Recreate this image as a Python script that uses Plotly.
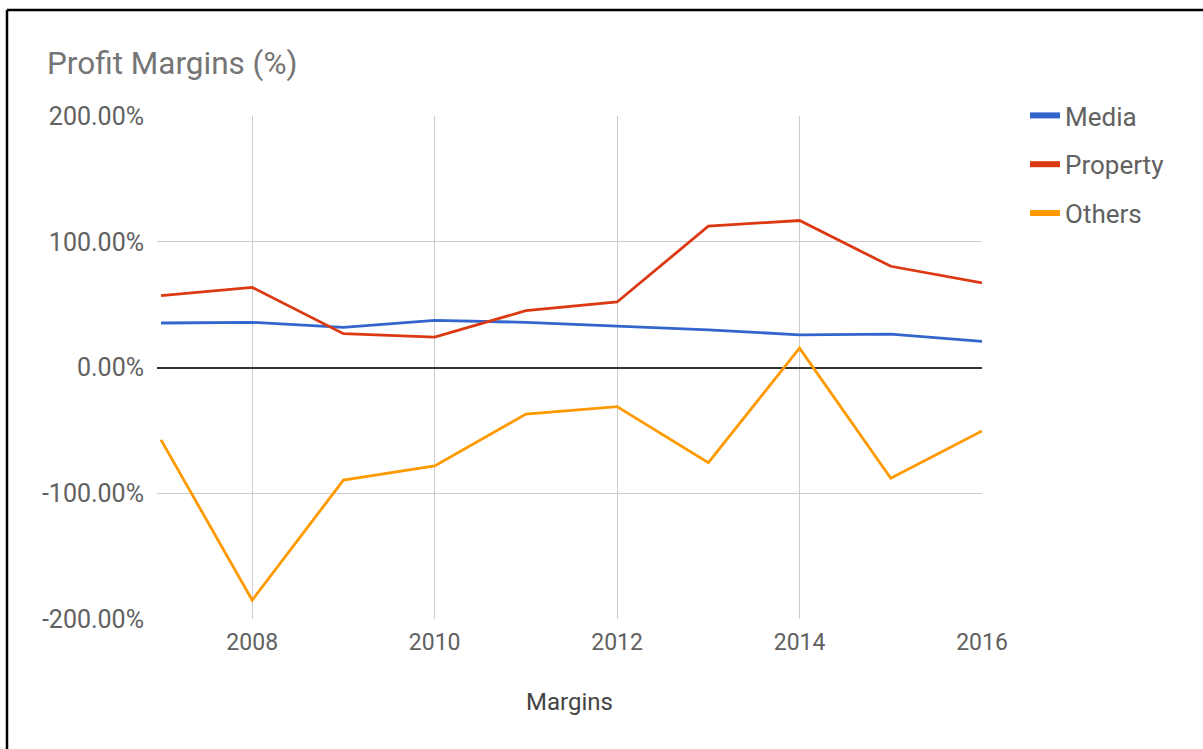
import plotly.graph_objects as go

years = [2007, 2008, 2009, 2010, 2011, 2012, 2013, 2014, 2015, 2016]
media = [35.4, 35.9, 31.9, 37.5, 35.9, 33.2, 30.0, 26.0, 26.6, 20.7]
property_ = [57.1, 63.7, 26.9, 24.2, 45.2, 52.1, 112.4, 116.9, 80.5, 67.3]
others = [-57.6, -185.0, -89.5, -78.3, -37.1, -31.1, -75.7, 15.4, -88.1, -50.4]
series_names = ["Media", "Property", "Others"]
colors = ["#3366cc", "#dc3912", "#ff9900"]
y_ticks = [-200, -100, 0, 100, 200]
y_tick_text = ["-200.00%", "-100.00%", "0.00%", "100.00%", "200.00%"]
x_ticks = [2008, 2010, 2012, 2014, 2016]

W, H = 1203, 749
L, R, T, B = 157, 221, 116, 130

fig = go.Figure()
for name, vals, c in zip(series_names, [media, property_, others], colors):
    fig.add_trace(go.Scatter(x=years, y=vals, mode="lines", name=name,
                             line=dict(color=c, width=2.8), showlegend=False,
                             hovertemplate="%{x}: %{y:.2f}%<extra>" + name + "</extra>"))
for name, c in zip(series_names, colors):
    fig.add_trace(go.Scatter(x=[None], y=[None], mode="lines", name=name,
                             line=dict(color=c, width=6), legendgroup=name, showlegend=True))

pw = W - L - R
ph = H - T - B
def px_x(p):
    return (p - L) / pw
def px_y(p):
    return (H - B - p) / ph

tick_color = "#616161"
fig.update_layout(
    width=W, height=H,
    margin=dict(l=L, r=R, t=T, b=B),
    paper_bgcolor="white", plot_bgcolor="white",
    font=dict(family="Roboto", color=tick_color),
    title=dict(text="Profit Margins (%)", x=47 / W, xanchor="left", xref="container",
               y=1 - 63 / H, yanchor="middle", yref="container",
               font=dict(size=31.5, color="#757575", family="Roboto")),
    legend=dict(x=px_x(1025), y=px_y(92), xanchor="left", yanchor="top",
                font=dict(size=26, color=tick_color), tracegroupgap=12, itemwidth=30,
                bgcolor="rgba(0,0,0,0)"),
    showlegend=True,
    xaxis=dict(range=[2007 - 4 / 91.1, 2016], tickvals=x_ticks, showgrid=True,
               gridcolor="#cccccc", gridwidth=1, zeroline=False, showline=False,
               tickfont=dict(size=23, color=tick_color), ticks="", ticklabelstandoff=7,
               title=dict(text="Margins", font=dict(size=24, color="#444"), standoff=38)),
    yaxis=dict(range=[-200, 200], tickvals=y_ticks, ticktext=y_tick_text, showgrid=True,
               gridcolor="#cccccc", gridwidth=1, zeroline=True, zerolinecolor="#333333",
               zerolinewidth=1.5, showline=False, tickfont=dict(size=25, color=tick_color),
               ticks="", ticklabelstandoff=12),
    shapes=[
        dict(type="line", xref="paper", yref="paper", x0=px_x(7), x1=px_x(W + 2),
             y0=px_y(10), y1=px_y(10), line=dict(color="black", width=2.5)),
        dict(type="line", xref="paper", yref="paper", x0=px_x(7), x1=px_x(7),
             y0=px_y(10), y1=px_y(H + 2), line=dict(color="black", width=2.5)),
    ],
)

fig.write_html("out.html")
